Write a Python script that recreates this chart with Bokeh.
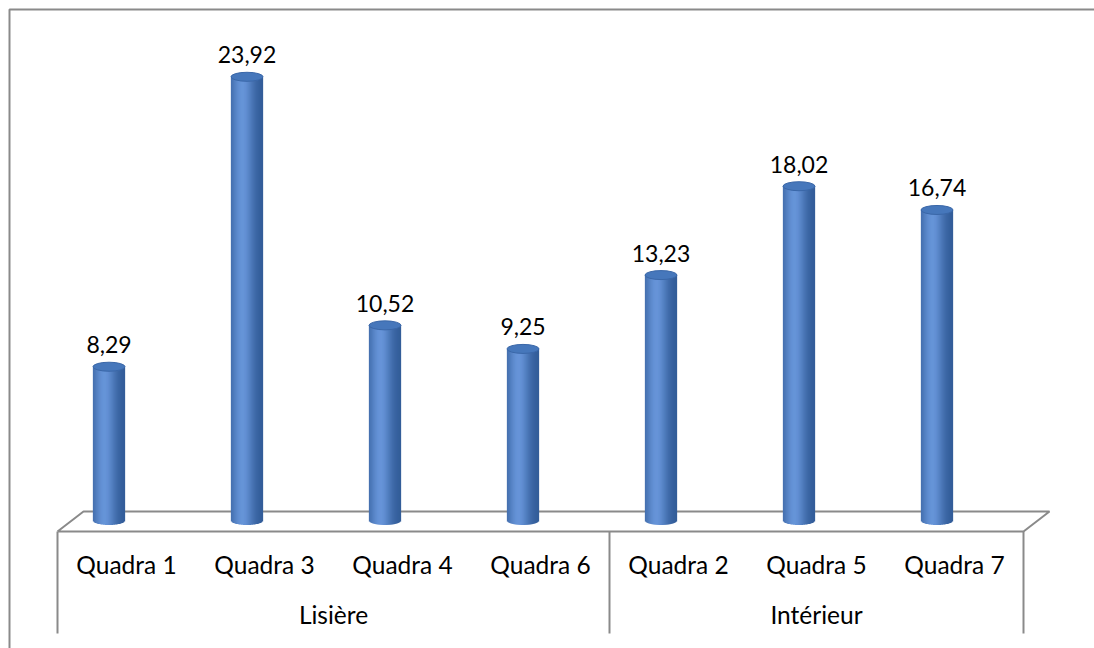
import math
from bokeh.plotting import figure
from bokeh.models import Range1d, ColumnDataSource
from bokeh.core.properties import value
from bokeh.embed import file_html
from bokeh.resources import INLINE

# --- data -------------------------------------------------------------
categories = ["Quadra 1", "Quadra 3", "Quadra 4", "Quadra 6",
              "Quadra 2", "Quadra 5", "Quadra 7"]
values = [8.29, 23.92, 10.52, 9.25, 13.23, 18.02, 16.74]
value_labels = ["8,29", "23,92", "10,52", "9,25", "13,23", "18,02", "16,74"]
groups = ["Lisière", "Intérieur"]
group_sizes = [4, 3]

# --- layout constants (pixels of the 1094x648 canvas) -----------------
W, H = 1094, 648
X0_PX = 57          # left front corner of the floor
CAT_PX = 138        # width of one category
BASE_PX = 520       # pixel row of value 0
UNIT_PX = 18.55     # pixels per unit of value
FONT = "Lato"

def xd(px):
    return (px - X0_PX) / CAT_PX

def yd(px):
    return (BASE_PX - px) / UNIT_PX

p = figure(width=W, height=H, output_backend="svg", toolbar_location=None,
           x_axis_type=None, y_axis_type=None, min_border=0,
           x_range=Range1d(xd(0), xd(W)), y_range=Range1d(yd(H), yd(0)),
           outline_line_color=None, background_fill_color="white",
           border_fill_color="white")
p.xgrid.visible = False
p.ygrid.visible = False

# pixel space for the frame decorations
p.extra_x_ranges["px"] = Range1d(0, W)
p.extra_y_ranges["px"] = Range1d(H, 0)

GRAY = "#8a8a8a"
# outer chart border (top and left)
p.line(x=[9, 9, W], y=[H, 9, 9], x_range_name="px", y_range_name="px",
       line_color=GRAY, line_width=2)

# 3D floor outline
ncat = len(categories)
depth_dx = 26
front_y, back_y = 531, 511
x_front_r = X0_PX + ncat * CAT_PX
p.line(x=[X0_PX, X0_PX + depth_dx, x_front_r + depth_dx, x_front_r, X0_PX],
       y=[front_y, back_y, back_y, front_y, front_y],
       x_range_name="px", y_range_name="px", line_color=GRAY, line_width=2)

# axis box and group divider
bottom_px = 633
split = X0_PX + group_sizes[0] * CAT_PX
p.segment(x0=[X0_PX, split, x_front_r], y0=[front_y] * 3,
          x1=[X0_PX, split, x_front_r], y1=[bottom_px] * 3,
          x_range_name="px", y_range_name="px", line_color=GRAY, line_width=2)

# --- cylinders ----------------------------------------------------------
bar_w = 32 / CAT_PX
shift = -17.5 / CAT_PX
ell_h = 9 / UNIT_PX
nstrip = 32

def hexcol(c):
    return "#%02x%02x%02x" % tuple(int(round(v)) for v in c)

dark = (48, 90, 150)
light = (102, 148, 216)

def shade(t):
    f = math.exp(-((t - 0.36) / 0.36) ** 2)
    return hexcol([d + (l - d) * f for d, l in zip(dark, light)])

left, right, top, bottom, color = [], [], [], [], []
centers = [i + 0.5 + shift for i in range(ncat)]
for cx, v in zip(centers, values):
    for k in range(nstrip):
        t = (k + 0.5) / nstrip
        dx = -bar_w / 2 + t * bar_w
        u = 2 * t - 1
        left.append(cx + dx - bar_w / nstrip / 2 - 0.001)
        right.append(cx + dx + bar_w / nstrip / 2 + 0.001)
        top.append(v)
        bottom.append(-ell_h / 2 * math.sqrt(max(0.0, 1 - u * u)))
        color.append(shade(t))

strips = ColumnDataSource(dict(left=left, right=right, top=top,
                               bottom=bottom, color=color))
p.quad(left="left", right="right", top="top", bottom="bottom",
       fill_color="color", line_color=None, source=strips)

caps = ColumnDataSource(dict(x=centers, y=values))
p.ellipse(x="x", y="y", width=bar_w, height=ell_h, source=caps,
          fill_color="#4677bb", line_color="#3a67a8", line_width=1)

# value labels, floated a fixed distance above each cap
label_gap = 22 / UNIT_PX
labels = ColumnDataSource(dict(x=centers, y=[v + label_gap for v in values],
                               text=value_labels))
p.text(x="x", y="y", text="text", source=labels,
       text_align="center", text_baseline="alphabetic",
       text_font=value(FONT), text_font_size="23px", text_color="black")

# category labels
cat_src = ColumnDataSource(dict(x=[i + 0.5 for i in range(ncat)],
                                y=[yd(564)] * ncat, text=categories))
p.text(x="x", y="y", text="text", source=cat_src, text_align="center",
       text_baseline="alphabetic", text_font=value(FONT),
       text_font_size="24.5px", text_color="black")

# group labels
gx, start = [], 0
for n in group_sizes:
    gx.append(start + n / 2)
    start += n
grp_src = ColumnDataSource(dict(x=gx, y=[yd(614)] * len(groups), text=groups))
p.text(x="x", y="y", text="text", source=grp_src, text_align="center",
       text_baseline="alphabetic", text_font=value(FONT),
       text_font_size="24.5px", text_color="black")

open("out.html", "w").write(file_html(p, INLINE))
